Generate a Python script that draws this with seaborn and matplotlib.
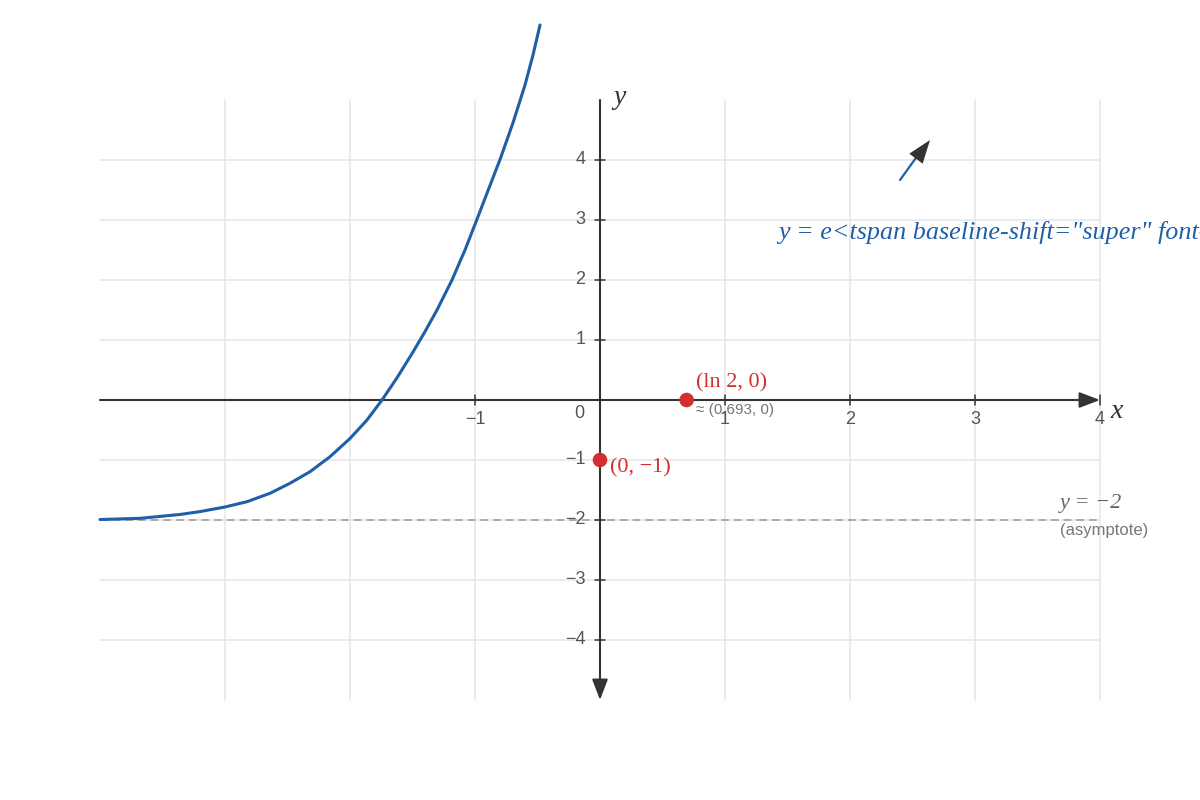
import matplotlib
matplotlib.use("Agg")
import matplotlib.pyplot as plt
import pandas as pd
import seaborn as sns

# curve (x, y in graph units)
curve_x = [-4.0, -3.68, -3.36, -3.2, -3.0, -2.824, -2.64, -2.48, -2.32, -2.16, -2.0,
           -1.864, -1.744, -1.624, -1.496, -1.4, -1.304, -1.184, -1.08, -0.992,
           -0.796, -0.696, -0.6, -0.536, -0.48]
curve_y = [-1.992, -1.972, -1.908, -1.86, -1.783, -1.695, -1.555, -1.388, -1.195, -0.945, -0.642,
           -0.333, 0.0, 0.37, 0.80, 1.14, 1.5, 2.0, 2.5, 2.97,
           4.03, 4.62, 5.25, 5.75, 6.25]

grid_x = [-3, -2, -1, 1, 2, 3, 4]
grid_y = [4, 3, 2, 1, -1, -2, -3, -4]
x_ticks = [-1, 1, 2, 3, 4]
x_tick_labels = ["\u22121", "1", "2", "3", "4"]
y_ticks = [4, 3, 2, 1, -1, -2, -3, -4]
y_tick_labels = ["4", "3", "2", "1", "\u22121", "\u22122", "\u22123", "\u22124"]

point_x = [0.693, 0.0]
point_y = [0.0, -1.0]
asymptote = -2

BLUE = "#1f5fa8"
RED = "#d32f2f"
DARK = "#333333"
GRID = "#e6e6e6"
TICK = "#555555"

sns.set_theme(style="white")
plt.rcParams["font.family"] = ["Liberation Sans", "DejaVu Sans"]
SERIF = ["Liberation Serif", "DejaVu Serif"]

fig = plt.figure(figsize=(12, 8), dpi=100)
ax = fig.add_axes([0, 0, 1, 1])

# grid
for gx in grid_x:
    ax.plot([gx, gx], [-5, 5], color=GRID, lw=1.1, zorder=1)
for gy in grid_y:
    ax.plot([-4, 4], [gy, gy], color=GRID, lw=1.1, zorder=1)

# asymptote
ax.plot([-4, 4], [asymptote, asymptote], color="#999999", lw=1.1,
        dashes=(5, 3.3), zorder=2)

# axes with arrows
arrow = dict(arrowstyle="-|>,head_length=1.05,head_width=0.4", color=DARK,
             lw=1.5, shrinkA=0, shrinkB=0)
ax.annotate("", xy=(4, 0), xytext=(-4, 0), arrowprops=arrow, zorder=3)
ax.annotate("", xy=(0, -5), xytext=(0, 5), arrowprops=arrow, zorder=3)

# ticks
for tx, lab in zip(x_ticks, x_tick_labels):
    ax.plot([tx, tx], [-5 / 60, 5 / 60], color=DARK, lw=1.1, zorder=3)
    ax.text(tx, -0.317, lab, ha="center", va="center", fontsize=13, color=TICK)
for ty, lab in zip(y_ticks, y_tick_labels):
    ax.plot([-5 / 125, 5 / 125], [ty, ty], color=DARK, lw=1.1, zorder=3)
    ax.text(-0.115, ty, lab, ha="right", va="center", fontsize=13, color=TICK)
ax.text(-0.168, -0.233, "0", ha="center", va="center", fontsize=13, color=TICK)

# axis names
ax.text(4.08, -0.2, "x", ha="left", va="center", fontsize=20, color=DARK,
        family=SERIF, style="italic")
ax.text(0.104, 5.05, "y", ha="left", va="center", fontsize=20, color=DARK,
        family=SERIF, style="italic")

# curve
curve = pd.DataFrame({"x": curve_x, "y": curve_y})
sns.lineplot(data=curve, x="x", y="y", ax=ax, color=BLUE, lw=2.2,
             sort=False, zorder=5)

# points
pts = pd.DataFrame({"x": point_x, "y": point_y})
sns.scatterplot(data=pts, x="x", y="y", ax=ax, color=RED, s=110,
                edgecolor="none", zorder=6)

ax.set_xlim(-4.8, 4.8)
ax.set_ylim(-400 / 60, 400 / 60)
ax.axis("off")

ax.text(0.768, 0.283, "(ln 2, 0)", ha="left", va="center", fontsize=16,
        color=RED, family=SERIF)
ax.text(0.768, -0.167, "\u2248 (0.693, 0)", ha="left", va="center",
        fontsize=11, color="#777777")
ax.text(0.08, -1.133, "(0, \u22121)", ha="left", va="center", fontsize=16,
        color=RED, family=SERIF)

# asymptote label
ax.text(3.68, -1.717, "y = \u22122", ha="left", va="center", fontsize=16,
        color="#666666", family=SERIF, style="italic")
ax.text(3.68, -2.167, "(asymptote)", ha="left", va="center", fontsize=12,
        color="#777777")

# equation label with pointer
ax.plot([2.4, 2.55], [3.667, 4.1], color=BLUE, lw=1.6, zorder=4)
ax.annotate("", xy=(2.64, 4.333), xytext=(2.4, 3.667),
            arrowprops=dict(arrowstyle="-|>,head_length=1.4,head_width=0.5",
                            color=DARK, lw=0, shrinkA=0, shrinkB=0), zorder=5)
ax.text(1.424, 2.79, 'y = e<tspan baseline-shift="super" font-size="14">x</tspan> \u2212 2',
        ha="left", va="center", fontsize=18.8, color=BLUE, family=SERIF,
        style="italic", clip_on=False)

fig.savefig("out.png", dpi=100)
plt.close(fig)
